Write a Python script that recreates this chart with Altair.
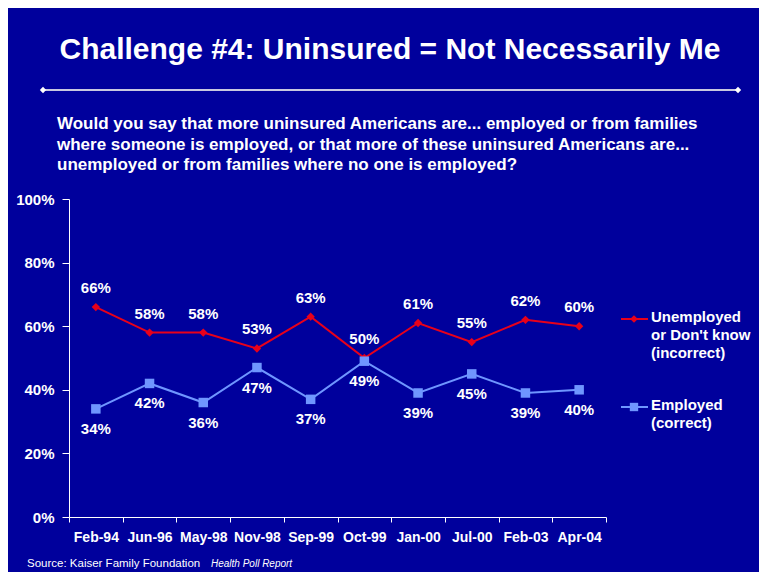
import altair as alt
import pandas as pd

categories = ["Feb-94", "Jun-96", "May-98", "Nov-98", "Sep-99", "Oct-99", "Jan-00", "Jul-00", "Feb-03", "Apr-04"]
unemployed = [66, 58, 58, 53, 63, 50, 61, 55, 62, 60]
employed = [34, 42, 36, 47, 37, 49, 39, 45, 39, 40]
y_ticks = [0, 20, 40, 60, 80, 100]

S_UNEMP = "Unemployed or Don't know (incorrect)"
S_EMP = "Employed (correct)"
RED = "#E8001A"
BLUE = "#6F96FF"
BG = "#00009C"
FONT = "Liberation Sans, Arial, sans-serif"

rows = []
for c, u, e in zip(categories, unemployed, employed):
    rows.append({"date": c, "series": S_UNEMP, "value": u})
    rows.append({"date": c, "series": S_EMP, "value": e})
df = pd.DataFrame(rows)
df["label"] = df["value"].astype(str) + "%"

x_enc = alt.X("date:N", sort=categories, bandPosition=0.5,
              scale=alt.Scale(type="band", paddingInner=0, paddingOuter=0),
              axis=alt.Axis(title=None, labelAngle=0, tickBand="extent", domainColor="white",
                            tickColor="white", tickSize=5, labelColor="white", labelFont=FONT,
                            labelFontWeight="bold", labelFontSize=14, labelPadding=8))
y_enc = alt.Y("value:Q", scale=alt.Scale(domain=[0, 100], nice=False),
              axis=alt.Axis(title=None, values=y_ticks, labelExpr="datum.value + '%'", grid=False,
                            domainColor="white", tickColor="white", tickSize=7,
                            labelColor="white", labelFont=FONT, labelFontWeight="bold",
                            labelFontSize=15, labelPadding=8))

base = alt.Chart(df)
lines = base.mark_line(strokeWidth=2).encode(
    x=x_enc, y=y_enc, detail="series:N",
    color=alt.Color("series:N", scale=alt.Scale(domain=[S_UNEMP, S_EMP], range=[RED, BLUE]), legend=None))
red_pts = base.transform_filter(alt.datum.series == S_UNEMP).mark_point(
    shape="diamond", filled=True, size=70, color=RED, opacity=1).encode(x=x_enc, y=y_enc)
blue_pts = base.transform_filter(alt.datum.series == S_EMP).mark_square(
    size=90, color=BLUE, opacity=1).encode(x=x_enc, y=y_enc)
red_lbl = base.transform_filter(alt.datum.series == S_UNEMP).mark_text(
    dy=-19, color="white", font=FONT, fontWeight="bold", fontSize=15).encode(x=x_enc, y=y_enc, text="label:N")
blue_lbl = base.transform_filter(alt.datum.series == S_EMP).mark_text(
    dy=20, color="white", font=FONT, fontWeight="bold", fontSize=15).encode(x=x_enc, y=y_enc, text="label:N")

one = pd.DataFrame({"k": [0]})

def txt(text, x, y, size, weight="bold", align="left", style="normal", color="white", font=FONT, lh=None):
    kw = dict(align=align, baseline="middle", color=color, font=font, fontSize=size,
              fontWeight=weight, fontStyle=style)
    if lh:
        kw["lineBreak"] = "\n"
        kw["lineHeight"] = lh
        kw["baseline"] = "top"
    return alt.Chart(one).mark_text(**kw).encode(x=alt.value(x), y=alt.value(y), text=alt.value(text))

title = txt("Challenge #4: Uninsured = Not Necessarily Me", 321, -149, 30, align="center")
rule = alt.Chart(one).mark_rule(color="#C8C8E0", strokeWidth=2).encode(
    x=alt.value(-26), x2=alt.value(669), y=alt.value(-109))
rule_ends = alt.Chart(pd.DataFrame({"px": [-26, 669]})).mark_point(
    shape="diamond", filled=True, size=40, color="white", opacity=1).encode(
    x=alt.X("px:Q", scale=None), y=alt.value(-109))
question = txt("Would you say that more uninsured Americans are... employed or from families\n"
               "where someone is employed, or that more of these uninsured Americans are...\n"
               "unemployed or from families where no one is employed?", -12, -83, 17, lh=20.5)

leg_red_line = alt.Chart(one).mark_rule(color=RED, strokeWidth=2).encode(
    x=alt.value(552), x2=alt.value(579), y=alt.value(120))
leg_red_pt = alt.Chart(one).mark_point(shape="diamond", filled=True, size=60, color=RED, opacity=1).encode(
    x=alt.value(565), y=alt.value(120))
leg_red_txt = txt("Unemployed\nor Don't know\n(incorrect)", 582, 111, 15, lh=18)
leg_blue_line = alt.Chart(one).mark_rule(color=BLUE, strokeWidth=2).encode(
    x=alt.value(552), x2=alt.value(579), y=alt.value(208))
leg_blue_pt = alt.Chart(one).mark_square(size=70, color=BLUE, opacity=1).encode(
    x=alt.value(565), y=alt.value(208))
leg_blue_txt = txt("Employed\n(correct)", 582, 199, 15, lh=18)

src1 = txt("Source: Kaiser Family Foundation", -42, 365, 11.5, weight="normal")
src2 = txt("Health Poll Report", 142, 365, 10, weight="normal", style="italic")

chart = alt.layer(
    lines, red_pts, blue_pts, red_lbl, blue_lbl,
    title, rule, rule_ends, question,
    leg_red_line, leg_red_pt, leg_red_txt, leg_blue_line, leg_blue_pt, leg_blue_txt,
    src1, src2,
).properties(
    width=537, height=318,
    padding={"left": 61, "top": 191, "right": 153, "bottom": 55},
    autosize=alt.AutoSizeParams(type="none"),
    background=BG,
).configure_view(stroke=None)

chart.save("out.html", embed_options={"renderer": "svg", "actions": False})
